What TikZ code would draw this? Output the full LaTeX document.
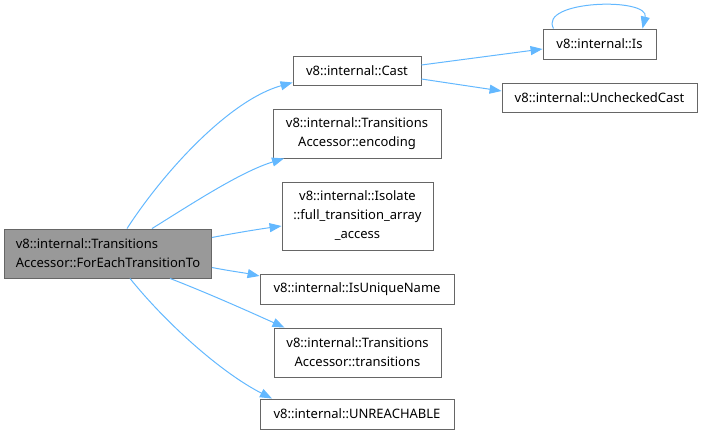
\documentclass[tikz,border=0pt]{standalone}
\usepackage{fontspec}
\setmainfont{Noto Sans}
\usetikzlibrary{arrows.meta}
\definecolor{edgeblue}{HTML}{63B8FF}
\definecolor{boxborder}{HTML}{666666}
\definecolor{mainfill}{HTML}{999999}
\tikzset{
  fnbox/.style={draw=boxborder, line width=0.9pt, fill=white, inner sep=0pt, align=center,
    font=\fontsize{13}{19}\selectfont, text=black},
  mainbox/.style={fnbox, fill=mainfill, align=left},
  calledge/.style={draw=edgeblue, line width=1pt, -{Triangle[length=12pt,width=9pt]}}
}
\begin{document}
\begin{tikzpicture}[x=1pt,y=-1pt]
\useasboundingbox (0,0) rectangle (703,435);
\node[mainbox, minimum width=207pt, minimum height=49pt] (main) at (108,253.5) {v8::internal::Transitions\\Accessor::ForEachTransitionTo};
\node[fnbox, minimum width=128pt, minimum height=29pt] (cast) at (357,70.5) {v8::internal::Cast};
\node[fnbox, minimum width=113pt, minimum height=30pt] (is) at (599.5,44) {v8::internal::Is};
\node[fnbox, minimum width=195pt, minimum height=29pt] (unchecked) at (599.5,97.5) {v8::internal::UncheckedCast};
\node[fnbox, minimum width=168pt, minimum height=49pt] (encoding) at (357,133.5) {v8::internal::Transitions\\Accessor::encoding};
\node[fnbox, minimum width=151pt, minimum height=68pt] (isolate) at (357.5,216) {v8::internal::Isolate\\::full\_transition\_array\\\_access};
\node[fnbox, minimum width=194pt, minimum height=30pt] (unique) at (357,289) {v8::internal::IsUniqueName};
\node[fnbox, minimum width=167pt, minimum height=49pt] (transitions) at (357.5,352.5) {v8::internal::Transitions\\Accessor::transitions};
\node[fnbox, minimum width=194pt, minimum height=30pt] (unreachable) at (357,414) {v8::internal::UNREACHABLE};

\draw[calledge] ([xshift=19pt]main.north) .. controls (165,170) and (230,100) .. ([yshift=-12pt]cast.west);
\draw[calledge] ([xshift=44pt]main.north) .. controls (190,205) and (240,172) .. ([xshift=-73pt]encoding.south);
\draw[calledge] ([yshift=16pt]main.east) .. controls (235,233) and (260,229) .. ([yshift=-10pt]isolate.west);
\draw[calledge] ([yshift=-14pt]main.east) .. controls (230,271) and (245,273) .. ([yshift=13pt]unique.west);
\draw[calledge] ([xshift=62pt]main.south) .. controls (210,294) and (250,312) .. ([xshift=-73pt]transitions.north);
\draw[calledge] ([xshift=22pt]main.south) .. controls (165,322) and (220,372) .. ([xshift=-85pt]unreachable.north);
\draw[calledge] ([yshift=5.5pt]cast.east) -- ([yshift=-5pt]is.west);
\draw[calledge] ([yshift=-8.5pt]cast.east) -- ([yshift=6.5pt]unchecked.west);
\draw[calledge] ([xshift=-46pt]is.north) .. controls (538,0) and (650,-3) .. ([xshift=43pt]is.north);
\end{tikzpicture}
\end{document}
